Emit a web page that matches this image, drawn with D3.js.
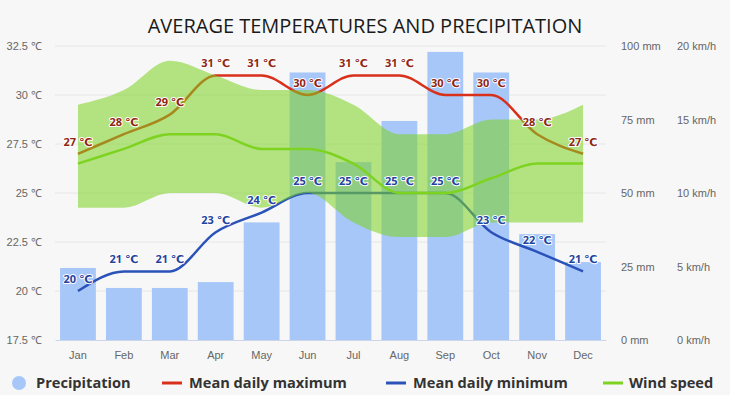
<!DOCTYPE html>
<html>
<head>
<meta charset="utf-8">
<script src="https://cdn.jsdelivr.net/npm/d3@7"></script>
<style>
  html, body { margin: 0; padding: 0; background: #f7f7f7; }
  svg { display: block; font-family: "Open Sans", "DejaVu Sans", sans-serif; }
</style>
</head>
<body>
<div id="chart"></div>
<script>
const months = ['Jan', 'Feb', 'Mar', 'Apr', 'May', 'Jun', 'Jul', 'Aug', 'Sep', 'Oct', 'Nov', 'Dec'];
const precipitation = [24.5, 17.7, 17.7, 19.7, 40, 91, 60.5, 74.5, 98, 91, 36, 26.5];
const tempMax = [27, 28, 29, 31, 31, 30, 31, 31, 30, 30, 28, 27];
const tempMin = [20, 21, 21, 23, 24, 25, 25, 25, 25, 23, 22, 21];
const windSpeed = [12, 13, 14, 14, 13, 13, 12, 10, 10, 11, 12, 12];
const windLow = [9, 9, 10, 10, 9, 10, 8, 7, 7, 8, 8, 8];
const windHigh = [16, 17, 19, 18, 17, 17, 16, 14, 14, 15, 15, 16];

const tempTicks = [17.5, 20, 22.5, 25, 27.5, 30, 32.5];
const rainTicks = [0, 25, 50, 75, 100];
const windTicks = [0, 5, 10, 15, 20];

const width = 730;
const height = 395;
const margin = { top: 46, right: 124, bottom: 55, left: 55 };

const colors = {
  rain: '#a7c7f9',
  max: '#d9301c',
  min: '#2a52b8',
  wind: '#7ed321',
  band: '#7cd320'
};

const svg = d3.select('#chart')
  .append('svg')
  .attr('width', width)
  .attr('height', height);

svg.append('rect')
  .attr('width', width)
  .attr('height', height)
  .attr('fill', '#f7f7f7');

const x = d3.scaleBand()
  .domain(months)
  .range([margin.left, width - margin.right])
  .paddingInner(0.22)
  .paddingOuter(0.11);

const xc = m => x(m) + x.bandwidth() / 2;

const yT = d3.scaleLinear()
  .domain([17.5, 32.5])
  .range([height - margin.bottom, margin.top]);

const yR = d3.scaleLinear()
  .domain([0, 100])
  .range([height - margin.bottom, margin.top]);

const yW = d3.scaleLinear()
  .domain([0, 20])
  .range([height - margin.bottom, margin.top]);

// title
svg.append('text')
  .attr('x', width / 2)
  .attr('y', 33)
  .attr('text-anchor', 'middle')
  .attr('font-size', '20px')
  .attr('fill', '#1a1a1a')
  .text('AVERAGE TEMPERATURES AND PRECIPITATION');

// grid
svg.append('g')
  .selectAll('line')
  .data(tempTicks.slice(1))
  .join('line')
    .attr('x1', margin.left)
    .attr('x2', width - margin.right)
    .attr('y1', d => yT(d))
    .attr('y2', d => yT(d))
    .attr('stroke', '#e6e6e6');

// axes
function leftAxis(g) {
  g.attr('transform', `translate(${margin.left},0)`)
    .call(d3.axisLeft(yT).tickValues(tempTicks).tickSize(0).tickPadding(13).tickFormat(d => `${d} ℃`))
    .call(g => g.select('.domain').remove());
  g.selectAll('text').attr('fill', '#666').attr('font-size', '11px').attr('font-family', null);
}

function rainAxis(g) {
  g.attr('transform', `translate(${width - margin.right},0)`)
    .call(d3.axisRight(yR).tickValues(rainTicks).tickSize(0).tickPadding(15).tickFormat(d => `${d} mm`))
    .call(g => g.select('.domain').remove());
  g.selectAll('text').attr('fill', '#666').attr('font-size', '11px').attr('font-family', null);
}

function windAxis(g) {
  g.attr('transform', `translate(${width - margin.right + 56},0)`)
    .call(d3.axisRight(yW).tickValues(windTicks).tickSize(0).tickPadding(15).tickFormat(d => `${d} km/h`))
    .call(g => g.select('.domain').remove());
  g.selectAll('text').attr('fill', '#666').attr('font-size', '11px').attr('font-family', null);
}

function xAxis(g) {
  g.attr('transform', `translate(0,${height - margin.bottom})`)
    .call(d3.axisBottom(x).tickSize(0).tickPadding(11))
    .call(g => g.select('.domain').attr('stroke', '#ccd6eb'));
  g.selectAll('text').attr('fill', '#666').attr('font-size', '11px').attr('font-family', null);
}

svg.append('g').call(leftAxis);
svg.append('g').call(rainAxis);
svg.append('g').call(windAxis);

// precipitation bars
svg.append('g')
  .attr('fill', colors.rain)
  .selectAll('rect')
  .data(precipitation)
  .join('rect')
    .attr('x', (d, i) => x(months[i]))
    .attr('y', d => yR(d))
    .attr('width', x.bandwidth())
    .attr('height', d => yR(0) - yR(d));

svg.append('g').call(xAxis);

// temperature lines
const tempLine = d3.line()
  .x((d, i) => xc(months[i]))
  .y(d => yT(d))
  .curve(d3.curveMonotoneX);

svg.append('path')
  .datum(tempMax)
  .attr('fill', 'none')
  .attr('stroke', colors.max)
  .attr('stroke-width', 2.5)
  .attr('d', tempLine);

svg.append('path')
  .datum(tempMin)
  .attr('fill', 'none')
  .attr('stroke', colors.min)
  .attr('stroke-width', 2.5)
  .attr('d', tempLine);

// wind range band and line
const windArea = d3.area()
  .x((d, i) => xc(months[i]))
  .y0((d, i) => yW(windLow[i]))
  .y1(d => yW(d))
  .curve(d3.curveMonotoneX);

svg.append('path')
  .datum(windHigh)
  .attr('fill', colors.band)
  .attr('fill-opacity', 0.55)
  .attr('d', windArea);

svg.append('path')
  .datum(windSpeed)
  .attr('fill', 'none')
  .attr('stroke', colors.wind)
  .attr('stroke-width', 2.5)
  .attr('d', d3.line()
    .x((d, i) => xc(months[i]))
    .y(d => yW(d))
    .curve(d3.curveMonotoneX));

// data labels
function labels(data, color) {
  svg.append('g')
    .selectAll('text')
    .data(data)
    .join('text')
      .attr('x', (d, i) => xc(months[i]))
      .attr('y', d => yT(d) - 12)
      .attr('dy', '0.35em')
      .attr('text-anchor', 'middle')
      .attr('font-size', '11px')
      .attr('font-weight', 'bold')
      .attr('fill', color)
      .attr('stroke', '#fff')
      .attr('stroke-width', 2)
      .attr('stroke-linejoin', 'round')
      .attr('paint-order', 'stroke')
      .text(d => `${d} ℃`);
}

labels(tempMax, '#8e2612');
labels(tempMin, '#23439e');

// legend
const legend = svg.append('g')
  .attr('font-size', '14.6px')
  .attr('font-weight', 'bold')
  .attr('fill', '#333');

const legendY = 383;

legend.append('circle')
  .attr('cx', 19)
  .attr('cy', legendY)
  .attr('r', 7)
  .attr('fill', colors.rain);

legend.append('text').attr('x', 36).attr('y', legendY).attr('dy', '0.35em').text('Precipitation');

const legendLines = [
  { x: 162, tx: 189, color: colors.max, label: 'Mean daily maximum' },
  { x: 386, tx: 413, color: colors.min, label: 'Mean daily minimum' },
  { x: 603, tx: 629, color: colors.wind, label: 'Wind speed' }
];

legendLines.forEach(d => {
  legend.append('line')
    .attr('x1', d.x)
    .attr('x2', d.x + 20)
    .attr('y1', legendY)
    .attr('y2', legendY)
    .attr('stroke', d.color)
    .attr('stroke-width', 3);
  legend.append('text').attr('x', d.tx).attr('y', legendY).attr('dy', '0.35em').text(d.label);
});
</script>
</body>
</html>
